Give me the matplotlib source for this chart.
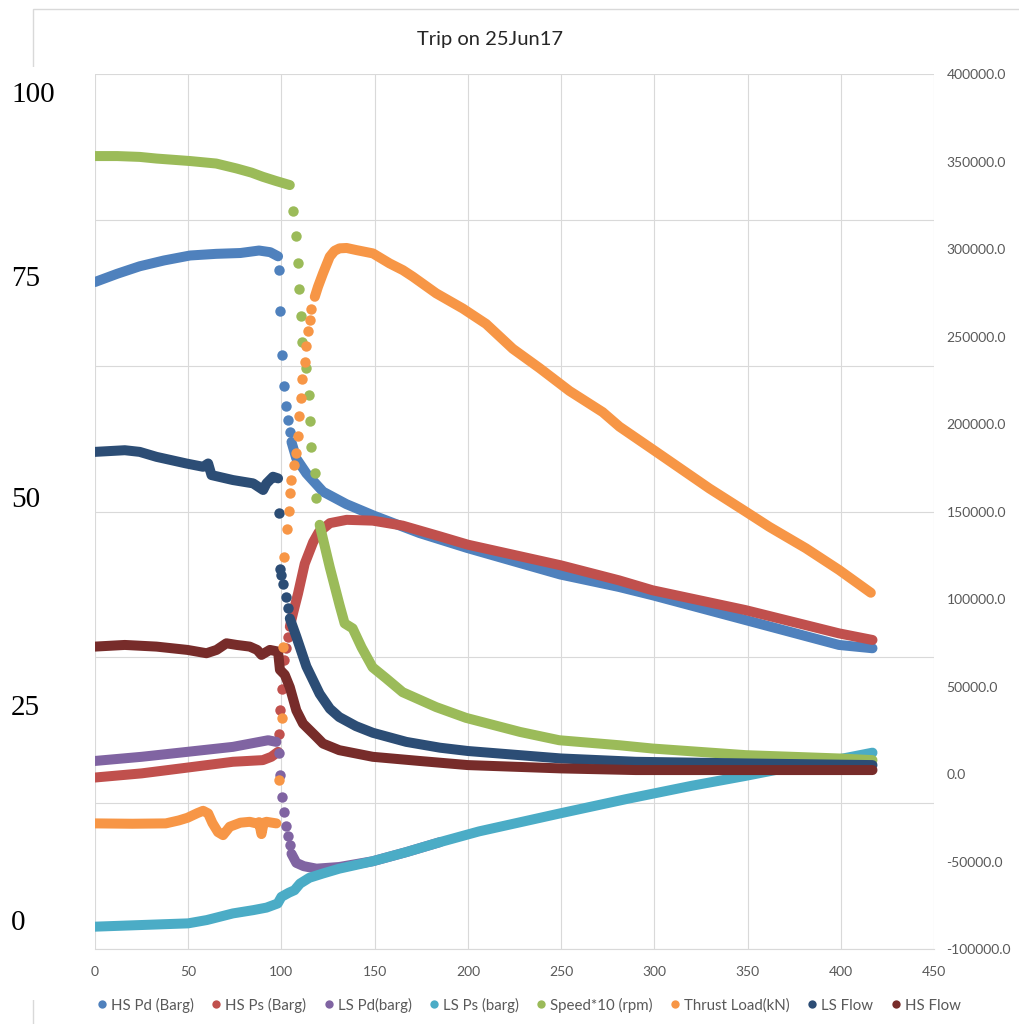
import numpy as np
import matplotlib.pyplot as plt
from matplotlib.lines import Line2D
from matplotlib.patches import Rectangle

# Trip log, 25 Jun 2017. Each series: a continuous trace (None = gap) plus
# the sparse samples logged while the machine was tripping.

# HS Pd (Barg)
hs_pd_t = [0, 12, 24, 37, 51, 65, 78, 88, 94, 98.2, None,
           105.4, 108, 113.4, 122.3, 134.8, 149.6, 174.1, 199.7, 227.7,
           249.6, 281, 299, 349, 399, 417]
hs_pd_v = [77.4, 78.4, 79.3, 80.0, 80.6, 80.8, 80.9, 81.2, 81.0, 80.5, None,
           58.1, 56.1, 54.3, 52.1, 50.6, 49.2, 47.1, 45.3, 43.5,
           42.1, 40.6, 39.6, 36.6, 33.6, 33.2]
hs_pd_dot_t = [98.7, 99.5, 100.4, 101.2, 102.7, 103.6, 104.5]
hs_pd_dot_v = [78.9, 73.9, 68.6, 64.9, 62.4, 60.7, 59.3]

# HS Ps (Barg)
hs_ps_t = [0, 25, 49.6, 74, 90, 94.6, 98.2, None,
           104.5, 106.2, 108.9, 112.5, 117, 120, 126, 135, 149, 165, 185,
           200, 228, 250, 281, 299, 349, 399, 417]
hs_ps_v = [17.6, 18.1, 18.8, 19.5, 19.7, 20.1, 20.7, None,
           35.8, 37.4, 39.8, 43.4, 46.0, 47.2, 48.3, 48.7, 48.6, 48.0, 46.7,
           45.7, 44.3, 43.2, 41.4, 40.2, 37.8, 35.0, 34.2]
hs_ps_dot_t = [98.7, 99.5, 100.2, 101.2, 102.7, 103.6]
hs_ps_dot_v = [22.9, 25.7, 28.3, 31.8, 33.2, 34.6]

# LS Pd(barg)
ls_pd_t = [0, 25, 49.6, 74, 92.9, 97.3, None,
           105.4, 108, 112, 118.8, 131, 149, 167, 185]
ls_pd_v = [19.6, 20.1, 20.7, 21.3, 22.1, 21.9, None,
           8.4, 7.3, 6.9, 6.6, 6.8, 7.5, 8.6, 9.8]
ls_pd_dot_t = [98.7, 99.5, 100.4, 101.4, 102.7, 103.6, 104.5]
ls_pd_dot_v = [20.5, 17.9, 15.3, 13.4, 11.8, 10.5, 9.4]

# LS Ps (barg)
ls_ps_t = [0, 25, 50, 60, 74, 85, 92, 98, 100, 104, 107, 110, 115, 122,
           131, 149, 167, 185, 206, 250, 285, 320, 349, 374, 399, 417]
ls_ps_v = [-0.4, -0.2, 0.0, 0.4, 1.2, 1.6, 1.9, 2.4, 3.2, 3.7, 4.0, 4.8,
           5.5, 6.0, 6.6, 7.5, 8.6, 9.8, 11.1, 13.3, 15.0, 16.6, 17.8,
           18.9, 19.8, 20.6]

# Speed*10 (rpm)
speed_t = [0, 12, 24, 33, 51, 65, 76, 84, 90, 97, 104.5, None,
           120.5, 125.9, 131.2, 133.9, 138.2, 143, 148.9, 156, 165, 183,
           199, 228, 249, 281, 299, 349, 399, 417]
speed_v = [92.6, 92.6, 92.5, 92.3, 92.0, 91.7, 91.1, 90.6, 90.1, 89.6, 89.1,
           None,
           48.1, 43.0, 38.4, 36.2, 35.6, 33.3, 30.9, 29.6, 27.9, 26.1,
           24.8, 23.1, 22.1, 21.5, 21.1, 20.3, 19.9, 19.7]
speed_dot_t = [106.2, 107.6, 108.8, 109.3, 110.3, 111.0, 113.4, 114.6,
               115.5, 116.0, 117.9, 118.8]
speed_dot_v = [86.0, 82.9, 79.7, 76.5, 73.3, 70.2, 67.0, 63.8,
               60.6, 57.5, 54.3, 51.3]

# Thrust Load(kN) - secondary axis
thrust_t = [0, 20, 38, 45, 49.6, 55, 58, 60.7, 63, 66, 68.7, 72.3, 78, 83,
            86.6, 88, 89.3, 90.5, 92, 97.3, None,
            117.9, 119.6, 122.3, 125.9, 128.5, 131.2, 135, 140.2, 149.1, 158,
            165.2, 170.5, 183, 197.3, 209.8, 224.1, 238.4, 254.5, 272.3,
            281.3, 300.9, 329.5, 349.1, 361.6, 381.3, 399.1, 416.1]
thrust_v = [-28200, -28400, -28200, -26500, -25000, -22300, -21000, -22500,
            -28000, -33200, -34900, -30100, -27800, -27300, -28200, -27500,
            -34300, -27800, -27300, -28200, None,
            272700, 278400, 286100, 295600, 299000, 300400, 300600, 299400,
            297500, 291800, 287900, 284200, 274700, 266000, 257200, 243000,
            232000, 218900, 206800, 198500, 184200, 163200, 149900, 141300,
            129000, 116600, 103600]
thrust_dot_t = [98.7, 100.3, 100.6, 101.6, 103.0, 103.9, 104.5, 105.4,
                106.6, 108, 108.9, 109.5, 110.4, 111.3, 112.5, 113.4, 114.3,
                115.2, 116.0]
thrust_dot_v = [-3400, 31800, 72700, 124200, 139800, 150500, 160700, 168000,
                176600, 183600, 193100, 204600, 214700, 225500, 235600,
                244600, 253100, 259400, 265500]

# LS Flow
ls_flow_t = [0, 16, 24, 33, 49, 58, 60.7, 62.5, 74, 84.8, 90.2, 92, 95.5,
             98.2, None,
             104.5, 108, 113.4, 120.5, 126, 131, 140, 149, 167, 185, 200,
             250, 290, 349, 417]
ls_flow_v = [56.9, 57.1, 56.9, 56.3, 55.5, 55.1, 55.5, 54.1, 53.5, 53.1,
             52.3, 53.1, 53.9, 53.7, None,
             36.8, 34.6, 31.0, 27.7, 25.9, 24.9, 23.8, 23.0, 21.9, 21.2,
             20.8, 19.9, 19.5, 19.3, 19.1]
ls_flow_dot_t = [98.6, 99.1, 100.0, 100.9, 102.7, 103.6]
ls_flow_dot_v = [49.5, 42.8, 42.0, 41.0, 39.4, 38.0]

# HS Flow
hs_flow_t = [0, 16, 33, 49.6, 59.8, 65.2, 70.5, 76, 83, 87, 89.3, 93.8,
             98.2, 99.2, 101.8, 104.5, 108, 111.6, 118.8, 122.3, 131, 149,
             174, 200, 250, 290, 349, 417]
hs_flow_v = [33.4, 33.6, 33.4, 33.0, 32.6, 33.0, 33.8, 33.6, 33.4, 33.0,
             32.4, 33.0, 32.8, 30.6, 30.0, 28.5, 25.7, 24.1, 22.5, 21.7,
             20.9, 20.1, 19.6, 19.1, 18.7, 18.5, 18.5, 18.5]

names = ['HS Pd (Barg)', 'HS Ps (Barg)', 'LS Pd(barg)', 'LS Ps (barg)',
         'Speed*10 (rpm)', 'Thrust Load(kN)', 'LS Flow', 'HS Flow']
colors = ['#4F81BD', '#C0504D', '#8064A2', '#4BACC6',
          '#9BBB59', '#F79646', '#2C4D75', '#772C2A']

LW = 7.2
MS = 7.5
GRID = '#D9D9D9'
TXT = '#595959'

fig = plt.figure(figsize=(10.2, 10.24), dpi=100)
ax = fig.add_axes([0.0931, 0.0732, 0.8226, 0.8545])
ax2 = ax.twinx()


def draw(axis, t, v, color, dot_t=None, dot_v=None):
    axis.plot(np.array(t, dtype=float), np.array(v, dtype=float), '-',
              color=color, lw=LW, solid_capstyle='round',
              solid_joinstyle='round')
    if dot_t is not None:
        axis.plot(dot_t, dot_v, 'o', color=color, ms=MS, mec='none')


draw(ax, hs_pd_t, hs_pd_v, colors[0], hs_pd_dot_t, hs_pd_dot_v)
draw(ax, hs_ps_t, hs_ps_v, colors[1], hs_ps_dot_t, hs_ps_dot_v)
draw(ax, ls_pd_t, ls_pd_v, colors[2], ls_pd_dot_t, ls_pd_dot_v)
draw(ax, ls_ps_t, ls_ps_v, colors[3])
draw(ax, speed_t, speed_v, colors[4], speed_dot_t, speed_dot_v)
draw(ax, ls_flow_t, ls_flow_v, colors[6], ls_flow_dot_t, ls_flow_dot_v)
draw(ax, hs_flow_t, hs_flow_v, colors[7])
draw(ax2, thrust_t, thrust_v, colors[5], thrust_dot_t, thrust_dot_v)

# primary axis: gridlines only, values are written in separately
ylo, yhi = -3.1, 102.5
ax.set_ylim(ylo, yhi)
ax.set_yticks(np.linspace(ylo, yhi, 7))
ax.set_yticklabels([])
ax.set_xlim(0, 450)
ax.set_xticks(range(0, 451, 50))
ax.grid(True, color=GRID, lw=0.8)
ax.tick_params(length=0, labelsize=10, labelcolor=TXT, pad=12)
for lab in ax.get_xticklabels():
    lab.set_family('Lato')

ax2.set_ylim(-100000, 400000)
ax2.set_yticks(range(-100000, 400001, 50000))
ax2.set_yticklabels(['%.1f' % v for v in range(-100000, 400001, 50000)])
ax2.tick_params(length=0, labelsize=10, labelcolor=TXT, pad=9)
for lab in ax2.get_yticklabels():
    lab.set_family('Lato')

for a in (ax, ax2):
    for s in a.spines.values():
        s.set_visible(False)
ax.spines['bottom'].set_visible(True)
ax.spines['bottom'].set_color(GRID)

# chart frame and the pasted-in scale on the left
fig.add_artist(Rectangle((33 / 1020, -0.2), 1.2, 1.2 - 9 / 1024, fill=False,
                         ec=GRID, lw=1, transform=fig.transFigure, zorder=1))
fig.add_artist(Rectangle((0, 1 - 1000 / 1024), 90 / 1020, (1000 - 67) / 1024,
                         fc='white', ec='none', transform=fig.transFigure,
                         zorder=2))
for lab, ypx in [('100', 95), ('75', 279), ('50', 500), ('25', 708),
                 ('0', 923)]:
    fig.text(11 / 1020, 1 - ypx / 1024, lab, family='Liberation Serif',
             fontsize=21, ha='left', va='center', zorder=3)

fig.text(490 / 1020, 1 - 40 / 1024, 'Trip on 25Jun17', family='Lato',
         fontsize=14.5, color='#262626', ha='center', va='center')

handles = [Line2D([], [], ls='none', marker='o', ms=6, color=c, mec='none')
           for c in colors]
leg = fig.legend(handles, names, loc='center', ncol=8, frameon=False,
                 bbox_to_anchor=(529 / 1020, 1 - 1005 / 1024),
                 handlelength=0.6, handletextpad=0.3, columnspacing=1.2,
                 prop={'family': 'Lato', 'size': 10.8})
for t in leg.get_texts():
    t.set_color(TXT)

fig.savefig('out.png', dpi=100, facecolor='white')
